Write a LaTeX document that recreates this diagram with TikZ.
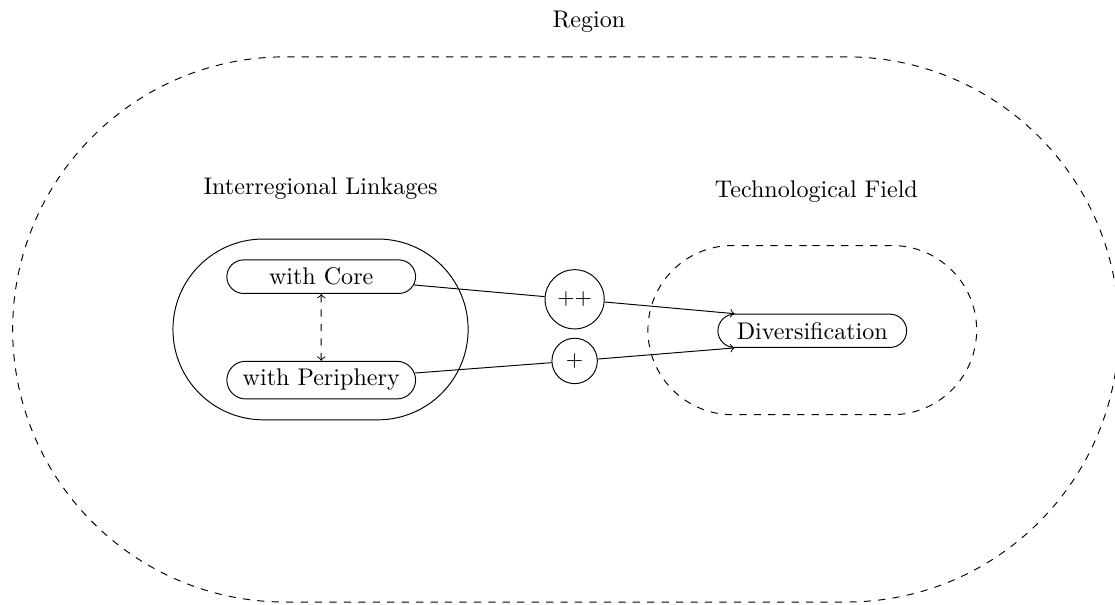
\documentclass[tikz,border=0pt]{standalone}
\usetikzlibrary{shapes.misc}
\tikzset{
  areabox/.style={draw,rounded rectangle,inner sep=0pt},
  pillbox/.style={draw,rounded rectangle,minimum width=2.99cm},
  signbox/.style={draw,circle,font=\small}
}

\begin{document}
\begin{tikzpicture}[x=1cm,y=1cm]
  \useasboundingbox (0,0) rectangle (16.28,8.83);

  \node[areabox,dashed,minimum width=16.15cm,minimum height=7.96cm] (region) at (8.26,4.02) {};
  \node (regionlabel) at (8.60,8.51) {Region};

  \node[areabox,minimum width=4.31cm,minimum height=2.64cm] (linkages) at (4.68,4.02) {};
  \node (linkageslabel) at (4.68,6.07) {Interregional Linkages};
  \node[pillbox] (core) at (4.69,4.79) {with Core};
  \node[pillbox] (periphery) at (4.69,3.28) {with Periphery};

  \node[areabox,dashed,minimum width=4.80cm,minimum height=2.47cm] (field) at (11.86,4.01) {};
  \node (fieldlabel) at (11.92,6.03) {Technological Field};
  \node[pillbox] (divers) at (11.86,4.00) {Diversification};

  \node[signbox] (plusplus) at (8.39,4.46) {++};
  \node[signbox] (plus) at (8.39,3.56) {+};

  \draw[<->,dashed] (core) -- (periphery);
  \draw (core) -- (plusplus);
  \draw[->] (plusplus) -- (divers.north west);
  \draw (periphery) -- (plus);
  \draw[->] (plus) -- (divers.south west);
\end{tikzpicture}
\end{document}
